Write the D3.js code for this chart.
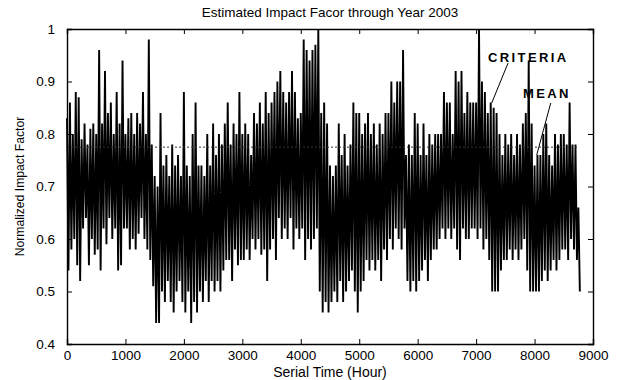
<!DOCTYPE html>
<html>
<head>
<meta charset="utf-8">
<script src="https://cdn.jsdelivr.net/npm/d3@7"></script>
<style>
  body { margin: 0; background: #fff; }
  text { font-family: Arial, 'Liberation Sans', sans-serif; fill: #000; }
</style>
</head>
<body>
<script>
const binHours = 50
const binHigh = [
  0.83, 0.86, 0.80, 0.88, 0.87, 0.79, 0.82, 0.78, 0.81, 0.82,
  0.80, 0.96, 0.82, 0.92, 0.84, 0.86, 0.80, 0.88, 0.82, 0.94,
  0.80, 0.83, 0.84, 0.80, 0.84, 0.82, 0.88, 0.80, 0.98, 0.78,
  0.72, 0.70, 0.84, 0.74, 0.76, 0.72, 0.78, 0.74, 0.76, 0.72,
  0.88, 0.74, 0.72, 0.80, 0.86, 0.74, 0.74, 0.72, 0.80, 0.74,
  0.82, 0.76, 0.80, 0.78, 0.82, 0.86, 0.78, 0.82, 0.80, 0.88,
  0.80, 0.82, 0.80, 0.76, 0.84, 0.82, 0.86, 0.82, 0.88, 0.84,
  0.86, 0.88, 0.90, 0.92, 0.88, 0.86, 0.88, 0.92, 0.88, 0.83,
  0.84, 0.98, 0.96, 0.94, 0.96, 0.97, 1.00, 0.84, 0.86, 0.82,
  0.74, 0.72, 0.74, 0.82, 0.76, 0.80, 0.74, 0.78, 0.86, 0.84,
  0.84, 0.80, 0.82, 0.84, 0.80, 0.82, 0.78, 0.82, 0.80, 0.84,
  0.84, 0.90, 0.86, 0.90, 0.90, 0.96, 0.76, 0.78, 0.76, 0.84,
  0.82, 0.76, 0.82, 0.76, 0.80, 0.78, 0.80, 0.80, 0.80, 0.88,
  0.86, 0.86, 0.80, 0.92, 0.90, 0.92, 0.84, 0.88, 0.86, 0.86,
  0.86, 1.00, 0.90, 0.88, 0.84, 0.86, 0.85, 0.84, 0.80, 0.76,
  0.80, 0.78, 0.80, 0.76, 0.80, 0.78, 0.82, 0.84, 0.94, 0.82,
  0.74, 0.76, 0.76, 0.80, 0.82, 0.76, 0.74, 0.80, 0.78, 0.80,
  0.80, 0.78, 0.86, 0.78, 0.78, 0.66
]
const binLow = [
  0.54, 0.58, 0.60, 0.55, 0.52, 0.62, 0.64, 0.55, 0.60, 0.57,
  0.58, 0.54, 0.62, 0.59, 0.64, 0.60, 0.62, 0.54, 0.55, 0.62,
  0.62, 0.58, 0.60, 0.58, 0.61, 0.64, 0.60, 0.58, 0.56, 0.51,
  0.44, 0.44, 0.50, 0.48, 0.52, 0.48, 0.46, 0.50, 0.52, 0.48,
  0.46, 0.50, 0.44, 0.48, 0.46, 0.50, 0.48, 0.52, 0.48, 0.52,
  0.50, 0.52, 0.50, 0.54, 0.56, 0.56, 0.52, 0.58, 0.55, 0.56,
  0.56, 0.58, 0.56, 0.60, 0.58, 0.60, 0.57, 0.58, 0.52, 0.58,
  0.60, 0.56, 0.64, 0.60, 0.62, 0.60, 0.64, 0.58, 0.62, 0.60,
  0.62, 0.56, 0.60, 0.58, 0.60, 0.62, 0.50, 0.46, 0.48, 0.46,
  0.48, 0.50, 0.48, 0.52, 0.48, 0.50, 0.52, 0.54, 0.50, 0.46,
  0.50, 0.52, 0.56, 0.54, 0.56, 0.54, 0.56, 0.52, 0.58, 0.56,
  0.60, 0.58, 0.62, 0.60, 0.58, 0.62, 0.52, 0.50, 0.52, 0.50,
  0.52, 0.54, 0.56, 0.52, 0.56, 0.58, 0.58, 0.60, 0.62, 0.60,
  0.62, 0.60, 0.62, 0.58, 0.56, 0.62, 0.60, 0.60, 0.62, 0.62,
  0.60, 0.62, 0.58, 0.60, 0.56, 0.50, 0.50, 0.50, 0.54, 0.56,
  0.56, 0.58, 0.56, 0.58, 0.56, 0.58, 0.60, 0.54, 0.50, 0.50,
  0.50, 0.50, 0.52, 0.54, 0.52, 0.54, 0.56, 0.54, 0.56, 0.58,
  0.58, 0.56, 0.60, 0.58, 0.56, 0.50
]
const meanValue = 0.775
const meanRange = [0, 8760]
const xTicks = [0, 1000, 2000, 3000, 4000, 5000, 6000, 7000, 8000, 9000]
const yTicks = [0.4, 0.5, 0.6, 0.7, 0.8, 0.9, 1]

const width = 622
const height = 380
const margins = { top: 29, right: 29, bottom: 36, left: 67 }

// Flatten bins into a zigzag series: high at bin start, low at bin middle
const series = binHigh.flatMap((hi, i) => [
  { hour: i * binHours, value: hi },
  { hour: i * binHours + binHours / 2, value: binLow[i] }
])

const xScale = d3.scaleLinear()
  .domain([0, 9000])
  .range([margins.left, width - margins.right])

const yScale = d3.scaleLinear()
  .domain([0.4, 1])
  .range([height - margins.bottom, margins.top])

const svg = d3.select('body').append('svg')
  .attr('width', width)
  .attr('height', height)
  .attr('viewBox', [0, 0, width, height].join(' '))

// Data line
const line = d3.line()
  .x(d => xScale(d.hour))
  .y(d => yScale(d.value))

svg.append('path')
  .datum(series)
  .attr('d', line)
  .attr('fill', 'none')
  .attr('stroke', '#000')
  .attr('stroke-width', 1.9)
  .attr('stroke-linejoin', 'miter')
  .attr('stroke-miterlimit', 1)

// Mean (dotted)
svg.append('line')
  .attr('x1', xScale(meanRange[0]))
  .attr('x2', xScale(meanRange[1]))
  .attr('y1', yScale(meanValue))
  .attr('y2', yScale(meanValue))
  .attr('stroke', '#333')
  .attr('stroke-width', 1)
  .style('stroke-dasharray', '2, 2')

// Axes, MATLAB style: ticks inward on all four sides
const tickIn = -5
const fontSize = '13.5px'

const xAxis = g => g
  .attr('transform', `translate(0, ${height - margins.bottom})`)
  .call(d3.axisBottom(xScale).tickValues(xTicks).tickSize(tickIn).tickPadding(6).tickFormat(d3.format('d')))

const xAxisTop = g => g
  .attr('transform', `translate(0, ${margins.top})`)
  .call(d3.axisTop(xScale).tickValues(xTicks).tickSize(tickIn).tickFormat(''))

const yAxis = g => g
  .attr('transform', `translate(${margins.left}, 0)`)
  .call(d3.axisLeft(yScale).tickValues(yTicks).tickSize(tickIn).tickPadding(12).tickFormat(d3.format('~g')))

const yAxisRight = g => g
  .attr('transform', `translate(${width - margins.right}, 0)`)
  .call(d3.axisRight(yScale).tickValues(yTicks).tickSize(tickIn).tickFormat(''))

svg.append('g').call(xAxis)
svg.append('g').call(xAxisTop)
svg.append('g').call(yAxis)
svg.append('g').call(yAxisRight)

svg.selectAll('.domain').attr('stroke', '#000').attr('stroke-width', 1.4)
svg.selectAll('.tick line').attr('stroke', '#000')
svg.selectAll('.tick text')
  .style('font-size', fontSize)
  .style('font-family', 'Arial, \'Liberation Sans\', sans-serif')
  .attr('fill', '#000')

// Titles
svg.append('text')
  .attr('x', (margins.left + width - margins.right) / 2)
  .attr('y', 17)
  .style('text-anchor', 'middle')
  .style('font-size', '13.5px')
  .text('Estimated Impact Facor through Year 2003')

svg.append('text')
  .attr('x', (margins.left + width - margins.right) / 2)
  .attr('y', 377)
  .style('text-anchor', 'middle')
  .style('font-size', '14px')
  .text('Serial Time (Hour)')

svg.append('text')
  .attr('transform', 'rotate(-90)')
  .attr('x', -(margins.top + height - margins.bottom) / 2)
  .attr('y', 24)
  .style('text-anchor', 'middle')
  .style('font-size', '12.2px')
  .text('Normalized Impact Factor')

// Annotations
const annotations = [
  { label: 'CRITERIA', tx: 7204, ty: 0.937, from: [7546, 0.935], to: [7267, 0.859] },
  { label: 'MEAN', tx: 7803, ty: 0.869, from: [8277, 0.859], to: [8037, 0.76] }
]

annotations.forEach(a => {
  svg.append('text')
    .attr('x', xScale(a.tx))
    .attr('y', yScale(a.ty))
    .style('font-size', '13px')
    .style('font-weight', 'bold')
    .style('letter-spacing', '2.4px')
    .text(a.label)

  svg.append('line')
    .attr('x1', xScale(a.from[0]))
    .attr('y1', yScale(a.from[1]))
    .attr('x2', xScale(a.to[0]))
    .attr('y2', yScale(a.to[1]))
    .attr('stroke', '#000')
    .attr('stroke-width', 1)
})
</script>
</body>
</html>
